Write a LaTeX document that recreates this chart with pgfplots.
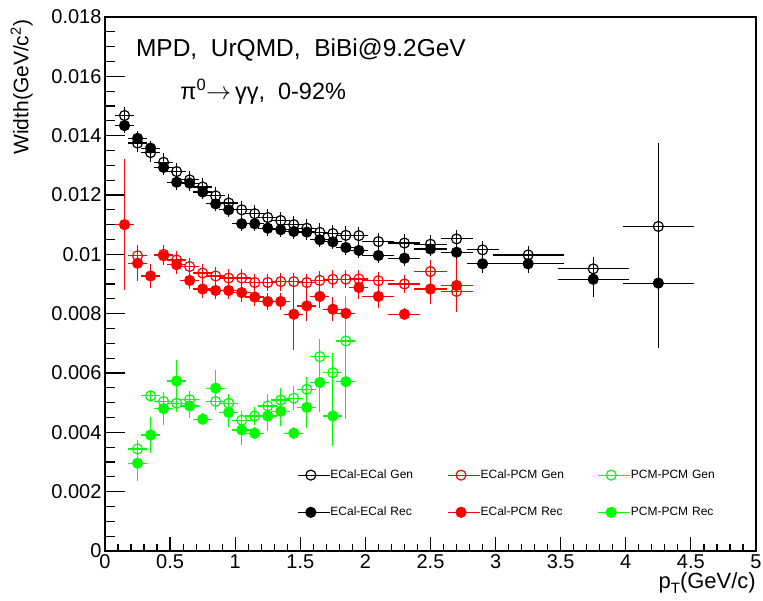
\documentclass[border=0pt]{standalone}
\usepackage{pgfplots}
\usepackage{pgfplotstable}
\pgfplotsset{compat=1.18}
\usepackage{fontspec}
\setmainfont{Liberation Sans}
\definecolor{rootgreen}{RGB}{0,255,0}
\definecolor{rootred}{RGB}{255,0,0}

\pgfplotstableread{
x y ex ey
0.15 0.01468 0.05 0.0002
0.25 0.01375 0.05 0.0002
0.35 0.01343 0.05 0.0002
0.45 0.01310 0.05 0.0002
0.55 0.01279 0.05 0.0002
0.65 0.01251 0.05 0.0002
0.75 0.01227 0.05 0.0002
0.85 0.01197 0.05 0.0002
0.95 0.01173 0.05 0.0002
1.05 0.01150 0.05 0.0002
1.15 0.01137 0.05 0.0002
1.25 0.01124 0.05 0.0002
1.35 0.01114 0.05 0.0002
1.45 0.01100 0.05 0.0002
1.55 0.01088 0.05 0.0002
1.65 0.01074 0.05 0.0002
1.75 0.01070 0.05 0.0002
1.85 0.01064 0.05 0.0002
1.95 0.01063 0.05 0.0002
2.1 0.01043 0.1 0.0002
2.3 0.01038 0.1 0.0002
2.5 0.01034 0.1 0.0002
2.7 0.01052 0.1 0.0002
2.9 0.01015 0.1 0.0002
3.25 0.00998 0.25 0.0002
3.75 0.00951 0.25 0.0003
4.25 0.01094 0.25 0.0027
}\bgen

\pgfplotstableread{
x y ex ey
0.15 0.01434 0.05 0.00015
0.25 0.01391 0.05 0.00015
0.35 0.01358 0.05 0.00015
0.45 0.01293 0.05 0.00015
0.55 0.01243 0.05 0.00015
0.65 0.01240 0.05 0.00015
0.75 0.01210 0.05 0.00015
0.85 0.01170 0.05 0.00015
0.95 0.01150 0.05 0.00015
1.05 0.01103 0.05 0.00015
1.15 0.01103 0.05 0.00015
1.25 0.01088 0.05 0.00015
1.35 0.01083 0.05 0.00015
1.45 0.01077 0.05 0.00015
1.55 0.01075 0.05 0.00015
1.65 0.01049 0.05 0.00015
1.75 0.01042 0.05 0.00015
1.85 0.01023 0.05 0.00015
1.95 0.01013 0.05 0.00015
2.1 0.00996 0.1 0.00015
2.3 0.00987 0.1 0.00015
2.5 0.01018 0.1 0.00015
2.7 0.01007 0.1 0.00015
2.9 0.00968 0.1 0.0002
3.25 0.00968 0.25 0.0002
3.75 0.00916 0.25 0.0005
4.25 0.00903 0.25 0.0021
}\brec

\pgfplotstableread{
x y ex ey
0.25 0.00995 0.05 0.00025
0.45 0.01000 0.05 0.0002
0.55 0.00981 0.05 0.0002
0.65 0.00959 0.05 0.0002
0.75 0.00937 0.05 0.0002
0.85 0.00927 0.05 0.0002
0.95 0.00920 0.05 0.0002
1.05 0.00920 0.05 0.0002
1.15 0.00905 0.05 0.0002
1.25 0.00905 0.05 0.0002
1.35 0.00908 0.05 0.0002
1.45 0.00908 0.05 0.0002
1.55 0.00905 0.05 0.0002
1.65 0.00912 0.05 0.0002
1.75 0.00916 0.05 0.0002
1.85 0.00916 0.05 0.0002
1.95 0.00917 0.05 0.0002
2.1 0.00911 0.1 0.0002
2.3 0.00900 0.1 0.0002
2.5 0.00942 0.1 0.0003
2.7 0.00875 0.1 0.0005
}\rgen

\pgfplotstableread{
x y ex ey
0.15 0.01100 0.05 0.0021
0.25 0.00970 0.05 0.0005
0.35 0.00927 0.05 0.0003
0.45 0.00995 0.05 0.0002
0.55 0.00965 0.05 0.0002
0.65 0.00912 0.05 0.0002
0.75 0.00883 0.05 0.0002
0.85 0.00878 0.05 0.0002
0.95 0.00878 0.05 0.0002
1.05 0.00871 0.05 0.0002
1.15 0.00856 0.05 0.0002
1.25 0.00841 0.05 0.0002
1.35 0.00841 0.05 0.0002
1.45 0.00798 0.05 0.0011
1.55 0.00826 0.05 0.0004
1.65 0.00858 0.05 0.0003
1.75 0.00815 0.05 0.0003
1.85 0.00801 0.05 0.0002
1.95 0.00888 0.05 0.0003
2.1 0.00858 0.1 0.0003
2.3 0.00798 0.1 0.0001
2.5 0.00883 0.1 0.0004
2.7 0.00895 0.1 0.0008
}\rrec

\pgfplotstableread{
x y ex ey
0.25 0.00344 0.05 0.0002
0.35 0.00523 0.05 0.0001
0.45 0.00504 0.05 0.0002
0.55 0.00498 0.05 0.0002
0.65 0.00510 0.05 0.0002
0.85 0.00504 0.05 0.0002
0.95 0.00498 0.05 0.0002
1.05 0.00441 0.05 0.0002
1.15 0.00455 0.05 0.0002
1.25 0.00489 0.05 0.0003
1.35 0.00509 0.05 0.0003
1.45 0.00515 0.05 0.0003
1.55 0.00545 0.05 0.0003
1.65 0.00655 0.05 0.00048
1.75 0.00601 0.05 0.00057
1.85 0.00708 0.05 0.0014
}\ggen

\pgfplotstableread{
x y ex ey
0.25 0.00296 0.05 0.0005
0.35 0.00391 0.05 0.0005
0.45 0.00480 0.05 0.00045
0.55 0.00573 0.05 0.0006
0.65 0.00489 0.05 0.0003
0.75 0.00444 0.05 0.0001
0.85 0.00549 0.05 0.0005
0.95 0.00467 0.05 0.0004
1.05 0.00408 0.05 0.0004
1.15 0.00397 0.05 0.0001
1.25 0.00455 0.05 0.0004
1.35 0.00471 0.05 0.0004
1.45 0.00397 0.05 0.0001
1.55 0.00484 0.05 0.0006
1.65 0.00568 0.05 0.0009
1.75 0.00455 0.05 0.0009
1.85 0.00571 0.05 0.00116
}\grec

\pgfplotsset{
  errstyle/.style={only marks, mark size=5pt, line width=1.2pt,
    error bars/.cd, x dir=both, x explicit, y dir=both, y explicit,
    error bar style={line width=1.2pt},
    error mark options={mark size=3pt, line width=1.2pt}},
}

\begin{document}
\begin{tikzpicture}
\begin{axis}[
  name=ax, at={(0,0)}, anchor=south west,
  scale only axis, width=651pt, height=534pt,
  xmin=0, xmax=5, ymin=0, ymax=0.018,
  axis line style={line width=1.2pt},
  tick align=inside, xtick pos=lower, ytick pos=left,
  xtick={0,0.5,1,1.5,2,2.5,3,3.5,4,4.5,5},
  xticklabels={0,0.5,1,1.5,2,2.5,3,3.5,4,4.5,5},
  ytick={0,0.002,0.004,0.006,0.008,0.01,0.012,0.014,0.016,0.018},
  yticklabels={0,0.002,0.004,0.006,0.008,0.01,0.012,0.014,0.016,0.018},
  scaled y ticks=false,
  minor x tick num=4, minor y tick num=3,
  major tick length=20pt, minor tick length=10pt,
  xtick style={/pgfplots/major tick length=14pt, /pgfplots/minor tick length=7pt},
  tick style={line width=1.2pt, black},
  ticklabel style={font=\fontsize{20}{24}\selectfont},
  xlabel={p\raisebox{-0.45ex}{\fontsize{15}{18}\selectfont T}(GeV/c)},
  ylabel={Width(GeV/c\textsuperscript{2})},
  every axis x label/.style={at={(axis description cs:1,-0.040)}, anchor=north east, inner sep=0pt, font=\fontsize{22}{26}\selectfont},
  every axis y label/.style={at={(axis description cs:-0.1106,0.995)}, rotate=90, anchor=south east, inner sep=0pt, font=\fontsize{21}{25}\selectfont},
  legend columns=2, transpose legend,
  legend cell align=left,
  legend style={draw=none, fill=none, at={(axis description cs:0.295,0.152)}, anchor=north west,
    inner sep=0pt, row sep=27pt, column sep=0pt,
    nodes={inner sep=0pt, anchor=west, text width=117pt, font=\fontsize{12}{14}\selectfont}},
  legend image code/.code={\draw[#1, sharp plot, mark repeat=2, mark phase=2] plot coordinates {(0pt,0pt) (13pt,0pt) (26pt,0pt)}; \path (26pt,0pt) -- (32pt,0pt);},
]
\addplot[black, mark=o, errstyle] table[x=x, y=y, x error=ex, y error=ey] {\bgen};
\addlegendentry{ECal-ECal Gen}
\addplot[black, mark=*, errstyle] table[x=x, y=y, x error=ex, y error=ey] {\brec};
\addlegendentry{ECal-ECal Rec}
\addplot[rootred, mark=o, errstyle] table[x=x, y=y, x error=ex, y error=ey] {\rgen};
\addlegendentry{ECal-PCM Gen}
\addplot[rootred, mark=*, errstyle] table[x=x, y=y, x error=ex, y error=ey] {\rrec};
\addlegendentry{ECal-PCM Rec}
\addplot[rootgreen, mark=o, errstyle] table[x=x, y=y, x error=ex, y error=ey] {\ggen};
\addlegendentry{PCM-PCM Gen}
\addplot[rootgreen, mark=*, errstyle] table[x=x, y=y, x error=ex, y error=ey] {\grec};
\addlegendentry{PCM-PCM Rec}
\node[font=\fontsize{24.5}{28}\selectfont] at (rel axis cs:0.301,0.938) {MPD,\ \ UrQMD,\ \ BiBi@9.2GeV};
\node[font=\fontsize{23.5}{28}\selectfont] at (rel axis cs:0.243,0.86) {π\textsuperscript{0}$\rightarrow$\,γγ,\ \ 0-92\%};
\end{axis}
\pgfresetboundingbox
\path (-105pt,-50pt) rectangle (658pt,551pt);
\end{tikzpicture}
\end{document}
